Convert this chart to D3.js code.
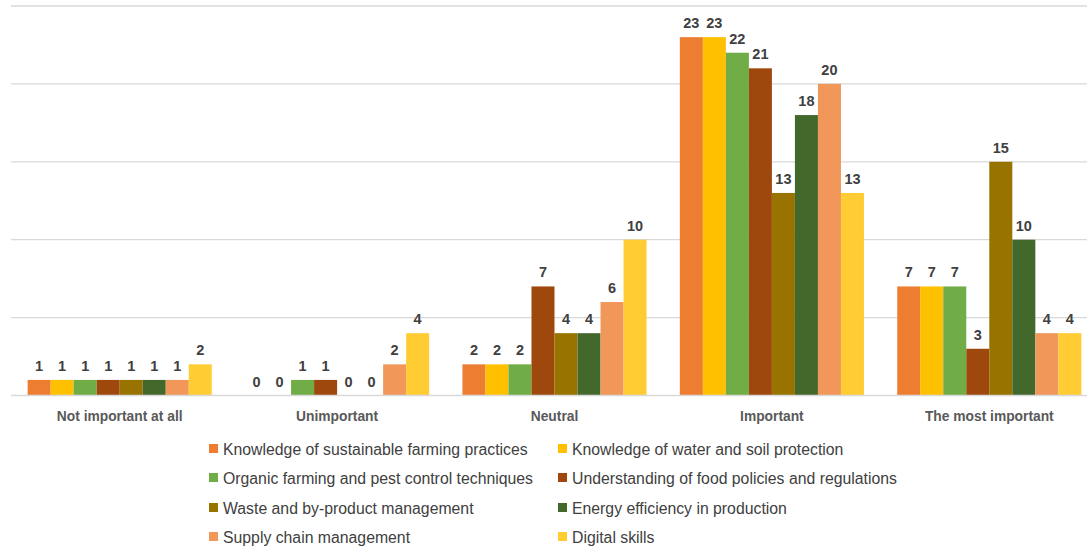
<!DOCTYPE html>
<html><head><meta charset="utf-8">
<script src="https://cdn.jsdelivr.net/npm/d3@7/dist/d3.min.js"></script>
<style>body{margin:0;background:#fff}svg{display:block}</style>
</head><body>
<svg id="c" width="1087" height="547"></svg>
<script>
const categories = ["Not important at all","Unimportant","Neutral","Important","The most important"];
const seriesNames = [
  "Knowledge of sustainable farming practices",
  "Knowledge of water and soil protection",
  "Organic farming and pest control techniques",
  "Understanding of food policies and regulations",
  "Waste and by-product management",
  "Energy efficiency in production",
  "Supply chain management",
  "Digital skills"
];
const sustainableFarming = [1,0,2,23,7];
const waterSoil = [1,0,2,23,7];
const organicFarming = [1,1,2,22,7];
const foodPolicies = [1,1,7,21,3];
const wasteManagement = [1,0,4,13,15];
const energyEfficiency = [1,0,4,18,10];
const supplyChain = [1,2,6,20,4];
const digitalSkills = [2,4,10,13,4];
const seriesValues = [sustainableFarming, waterSoil, organicFarming, foodPolicies, wasteManagement, energyEfficiency, supplyChain, digitalSkills];
const yTicks = [0,5,10,15,20,25];
const colors = ["#ED7D31","#FFC000","#70AD47","#9E480E","#997300","#43682B","#F1975A","#FFCD33"];

(function(){
const svg = d3.select("#c");
const pL = 11, pR = 1098, pT = 6, pB = 395.5;
const x0 = d3.scaleBand().domain(categories).range([pL, pR]).paddingInner(0.153).paddingOuter(0.0765);
const x1 = d3.scaleBand().domain(d3.range(seriesNames.length)).range([0, x0.bandwidth()]);
const y = d3.scaleLinear().domain([0,25]).range([pB, pT]);

svg.append("g").selectAll("line").data(yTicks.filter(d=>d>0)).join("line")
  .attr("x1", pL).attr("x2", 1087)
  .attr("y1", d=>y(d)).attr("y2", d=>y(d))
  .attr("stroke", "#d9d9d9").attr("stroke-width", 1.3);

const g = svg.append("g").selectAll("g").data(categories).join("g")
  .attr("transform", d=>`translate(${x0(d)},0)`);
g.each(function(cat, ci){
  const sel = d3.select(this);
  const data = seriesValues.map((s,si)=>({si, v:s[ci]}));
  sel.selectAll("rect").data(data.filter(d=>d.v>0)).join("rect")
    .attr("x", d=>x1(d.si)).attr("width", x1.bandwidth())
    .attr("y", d=>y(d.v)).attr("height", d=>y(0)-y(d.v))
    .attr("fill", d=>colors[d.si]);
  sel.selectAll("text").data(data).join("text")
    .attr("x", d=>x1(d.si)+x1.bandwidth()/2)
    .attr("y", d=>y(d.v)-9)
    .attr("text-anchor","middle")
    .attr("font-family","Liberation Sans, Arial, sans-serif")
    .attr("font-weight","bold").attr("font-size",14.5)
    .attr("fill","#404040")
    .text(d=>d.v);
});

svg.append("line").attr("x1", pL).attr("x2", 1087).attr("y1", pB).attr("y2", pB)
  .attr("stroke","#d9d9d9").attr("stroke-width",1.3);

const xAxis = d3.axisBottom(x0).tickSize(0).tickPadding(0);
const ax = svg.append("g").attr("transform",`translate(0,${pB})`).call(xAxis);
ax.select(".domain").remove();
ax.selectAll("text").attr("dy", null).attr("y", 25.5)
  .attr("font-family","Liberation Sans, Arial, sans-serif")
  .attr("font-weight","bold").attr("font-size",13.8).attr("fill","#595959");

const legX = [209, 558], legY = [449, 478, 508, 537];
const leg = svg.append("g").selectAll("g").data(seriesNames).join("g")
  .attr("transform",(d,i)=>`translate(${legX[i%2]},${legY[Math.floor(i/2)]})`);
leg.append("rect").attr("x",0).attr("y",-5).attr("width",9).attr("height",9).attr("fill",(d,i)=>colors[i]);
leg.append("text").attr("x",14).attr("y",5.5)
  .attr("font-family","Liberation Sans, Arial, sans-serif").attr("font-size",15.8).attr("fill","#404040")
  .text(d=>d);
})();
</script>
</body></html>
